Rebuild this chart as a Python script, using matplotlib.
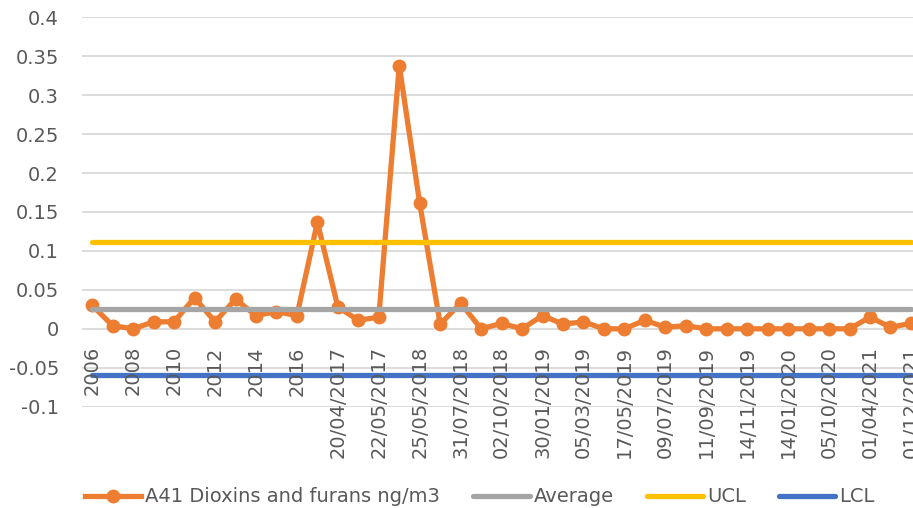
import matplotlib
matplotlib.use("Agg")
import matplotlib.pyplot as plt
import numpy as np

# sampling dates; only every other one carries a label on the axis
dates = [
    "2006", "", "2008", "", "2010", "", "2012", "", "2014", "",
    "2016", "", "20/04/2017", "", "22/05/2017", "", "25/05/2018", "",
    "31/07/2018", "", "02/10/2018", "", "30/01/2019", "", "05/03/2019",
    "", "17/05/2019", "", "09/07/2019", "", "11/09/2019", "",
    "14/11/2019", "", "14/01/2020", "", "05/10/2020", "", "01/04/2021",
    "", "01/12/2021",
]
dioxins = [
    0.030, 0.004, 0.000, 0.009, 0.009, 0.040, 0.009, 0.038, 0.017, 0.022,
    0.017, 0.137, 0.028, 0.011, 0.015, 0.338, 0.161, 0.006, 0.033, 0.000,
    0.007, 0.000, 0.017, 0.006, 0.009, 0.000, 0.000, 0.011, 0.002, 0.004,
    0.000, 0.000, 0.000, 0.000, 0.000, 0.000, 0.000, 0.000, 0.015, 0.002,
    0.007,
]
average = 0.026
ucl = 0.111
lcl = -0.059

y_ticks = [-0.1, -0.05, 0, 0.05, 0.1, 0.15, 0.2, 0.25, 0.3, 0.35, 0.4]
y_tick_labels = ["-0.1", "-0.05", "0", "0.05", "0.1", "0.15", "0.2", "0.25", "0.3", "0.35", "0.4"]

plt.rcParams["font.family"] = ["DejaVu Sans"]
plt.rcParams["font.size"] = 14

text_grey = "#595959"
grid_grey = "#D9D9D9"

x = np.arange(len(dates))
n = len(dates)

fig = plt.figure(figsize=(9.13, 5.08), dpi=100)
ax = fig.add_axes([82 / 913, 0.1994, 1 - 82 / 913, 0.966 - 0.1994])

ax.plot(x, dioxins, color="#ED7D31", lw=3.8, marker="o", ms=9,
        solid_joinstyle="round", label="A41 Dioxins and furans ng/m3")
ax.plot(x, np.full(n, average), color="#A5A5A5", lw=3.8, solid_capstyle="round", label="Average")
ax.plot(x, np.full(n, ucl), color="#FFC000", lw=3.8, solid_capstyle="round", label="UCL")
ax.plot(x, np.full(n, lcl), color="#4472C4", lw=3.8, solid_capstyle="round", label="LCL")

ax.set_xlim(-0.5, 40.1)
ax.set_ylim(-0.1, 0.4)

ax.set_yticks(y_ticks, y_tick_labels)
ax.yaxis.grid(True, color=grid_grey, lw=1.3)
ax.set_axisbelow(True)

# category axis crosses at zero, labels sit just below it
ax.spines["bottom"].set_position(("data", 0))
for side in ["top", "right", "left", "bottom"]:
    ax.spines[side].set_visible(False)
ax.set_xticks(x[::2], dates[::2], rotation=90)
ax.xaxis.set_zorder(5)
ax.tick_params(axis="x", length=0, pad=12.5, colors=text_grey)
ax.tick_params(axis="y", length=0, pad=16.5, colors=text_grey)

leg = fig.legend(loc="center left", bbox_to_anchor=(85 / 913, 1 - 497 / 508), ncol=4,
                 frameon=False, borderpad=0, borderaxespad=0, handlelength=2.9,
                 handletextpad=0.2, columnspacing=1.7, numpoints=1)
for t in leg.get_texts():
    t.set_color(text_grey)

fig.savefig("out.png", dpi=100)
